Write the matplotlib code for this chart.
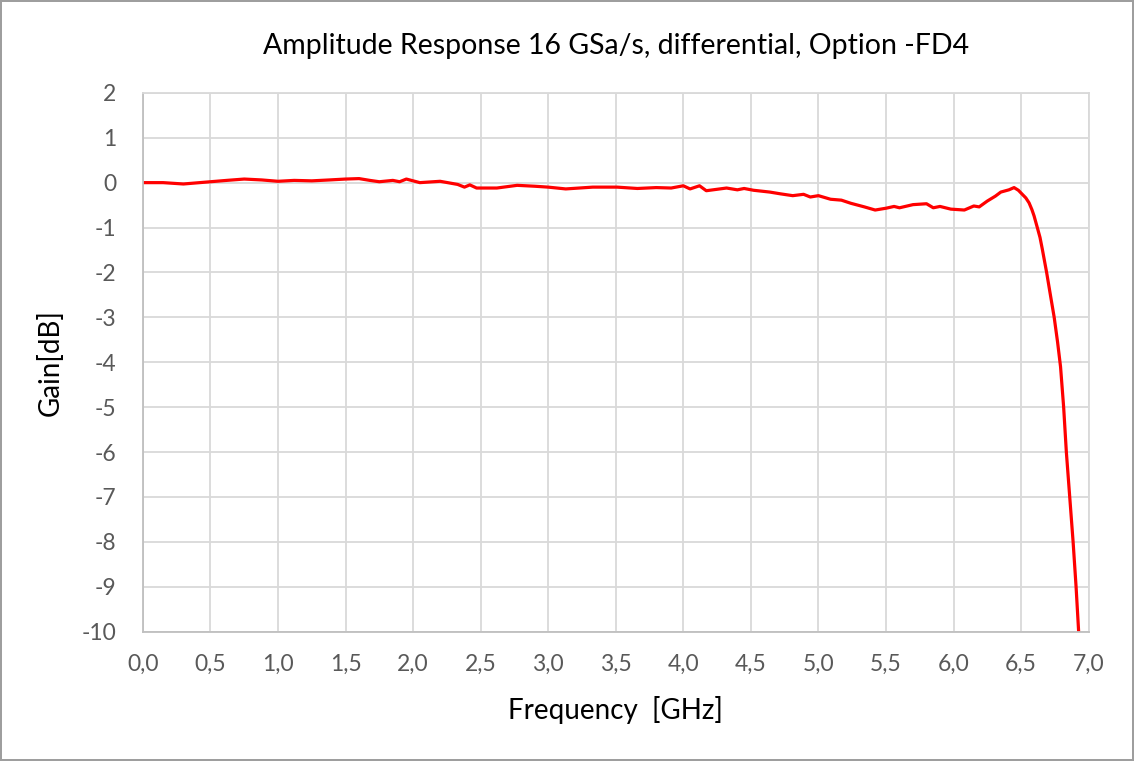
import matplotlib
matplotlib.use("Agg")
import matplotlib.pyplot as plt
from matplotlib.ticker import FuncFormatter

# Frequenz [GHz] und Gain [dB]
freq = [0.0, 0.15, 0.3, 0.5, 0.62, 0.75, 0.88, 1.0, 1.12, 1.25, 1.38, 1.5, 1.6, 1.68,
        1.75, 1.85, 1.9, 1.95, 2.0, 2.05, 2.2, 2.33, 2.38, 2.42, 2.47, 2.62, 2.77,
        2.9, 3.0, 3.13, 3.33, 3.51, 3.66, 3.8, 3.91, 4.0, 4.05, 4.12, 4.17, 4.32,
        4.4, 4.45, 4.52, 4.64, 4.72, 4.81, 4.89, 4.94, 5.0, 5.09, 5.17, 5.24, 5.34,
        5.42, 5.5, 5.56, 5.6, 5.7, 5.8, 5.85, 5.9, 5.98, 6.08, 6.15, 6.19, 6.25,
        6.31, 6.35, 6.41, 6.448, 6.48, 6.509, 6.535, 6.559, 6.58, 6.596, 6.62, 6.64,
        6.657, 6.689, 6.718, 6.745, 6.77, 6.792, 6.815, 6.835, 6.86, 6.885, 6.907, 6.926]
gain = [0.0, 0.0, -0.03, 0.02, 0.05, 0.08, 0.06, 0.03, 0.05, 0.04, 0.06, 0.08, 0.09, 0.05,
        0.02, 0.05, 0.02, 0.08, 0.04, 0.0, 0.03, -0.04, -0.1, -0.05, -0.12, -0.12, -0.06,
        -0.08, -0.1, -0.14, -0.1, -0.1, -0.13, -0.11, -0.12, -0.07, -0.14, -0.07, -0.18, -0.12,
        -0.16, -0.13, -0.17, -0.21, -0.25, -0.29, -0.26, -0.32, -0.29, -0.37, -0.39, -0.46, -0.54,
        -0.61, -0.57, -0.53, -0.56, -0.49, -0.47, -0.56, -0.53, -0.59, -0.61, -0.52, -0.54, -0.41,
        -0.3, -0.21, -0.16, -0.11, -0.17, -0.26, -0.34, -0.45, -0.6, -0.74, -1.0, -1.22,
        -1.48, -2.0, -2.52, -3.0, -3.55, -4.1, -5.0, -6.0, -7.0, -8.0, -9.0, -10.0]

x_ticks = [i * 0.5 for i in range(15)]
y_ticks = list(range(-10, 3))


def main():
    plt.rcParams['font.family'] = ['Lato', 'DejaVu Sans']
    plt.rcParams['axes.unicode_minus'] = False
    fig = plt.figure(figsize=(11.34, 7.61), dpi=100)
    fig.patch.set_edgecolor('#9e9e9e')
    fig.patch.set_linewidth(1.5)
    ax = fig.add_axes([0.126, 0.170, 0.834, 0.708])

    ax.plot(freq, gain, color='#ff0000', lw=2.3)

    ax.set_xlim(0, 7)
    ax.set_ylim(-10, 2)
    ax.set_xticks(x_ticks)
    ax.set_yticks(y_ticks)
    ax.xaxis.set_major_formatter(FuncFormatter(lambda v, p: f"{v:.1f}".replace('.', ',')))
    ax.grid(True, color='#d9d9d9', lw=1.3)
    ax.set_axisbelow(True)
    for s in ax.spines.values():
        s.set_color('#d9d9d9')
        s.set_linewidth(1.3)
    ax.spines['bottom'].set_color('#bfbfbf')
    ax.spines['left'].set_color('#bfbfbf')
    ax.tick_params(length=0, labelsize=16.5, colors='#595959')
    ax.tick_params(axis='x', pad=16)
    ax.tick_params(axis='y', pad=19)

    ax.set_title("Amplitude Response 16 GSa/s, differential, Option -FD4",
                 fontsize=20.5, color='#000000', pad=28)
    ax.set_xlabel("Frequency  [GHz]", fontsize=20, labelpad=15)
    ax.set_ylabel("Gain[dB]", fontsize=20, labelpad=13)

    fig.savefig("out.png", dpi=100, edgecolor=fig.get_edgecolor())


if __name__ == '__main__':
    main()
